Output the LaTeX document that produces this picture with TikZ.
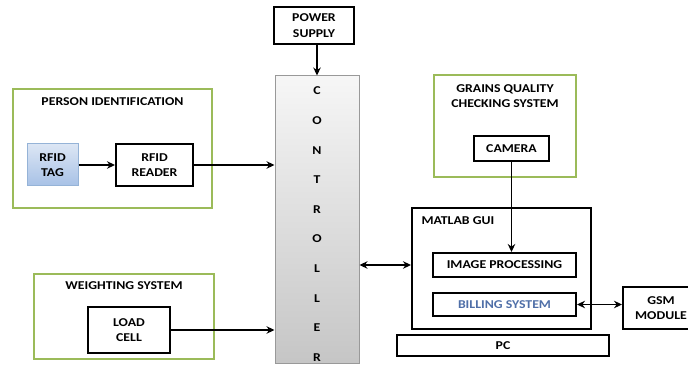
\documentclass[tikz,border=0pt]{standalone}
\usepackage{fontspec}
\setmainfont{Carlito}[FakeStretch=1.15]
\usepackage{xcolor}
\usetikzlibrary{arrows.meta,positioning}
\definecolor{grpgreen}{HTML}{9BBB59}
\definecolor{tagline}{HTML}{95B3D7}
\definecolor{tagtop}{HTML}{DCE6F4}
\definecolor{tagbot}{HTML}{A7C1E6}
\definecolor{billblue}{HTML}{4F6FA8}

\begin{document}
\begin{tikzpicture}[
  x=1pt,y=-1pt,
  font=\bfseries\fontsize{12}{15.5}\selectfont,
  blk/.style={rectangle,draw=black,line width=2pt,fill=white,align=center,inner sep=0pt},
  grp/.style={rectangle,draw=grpgreen,line width=1.5pt,inner sep=0pt},
  tagbox/.style={rectangle,draw=tagline,line width=1pt,top color=tagtop,bottom color=tagbot,align=center,inner sep=0pt},
  ctrlbox/.style={rectangle,draw=gray!80,line width=1pt,top color=gray!7,bottom color=gray!45,inner sep=0pt},
  arr/.style={-{Stealth[length=8pt,width=7.5pt]},line width=1.7pt},
  darr/.style={{Stealth[length=8pt,width=7.5pt]}-{Stealth[length=8pt,width=7.5pt]},line width=1.7pt}
]
\useasboundingbox (0,0) rectangle (688,366);

% groups
\node[grp,minimum width=199pt,minimum height=119pt] (person) at (112.5,148.5) {};
\node (persontitle) at (112.5,102) {PERSON IDENTIFICATION};
\node[grp,minimum width=180pt,minimum height=85pt] (weigh) at (124,316.5) {};
\node (weightitle) at (124,286) {WEIGHTING SYSTEM};
\node[grp,minimum width=142pt,minimum height=102pt] (grains) at (505,126) {};
\node[align=center] (grainstitle) at (505,96) {GRAINS QUALITY\\CHECKING SYSTEM};
\node[blk,minimum width=179pt,minimum height=121pt] (matlab) at (501.5,268.5) {};
\node[anchor=west] (matlabtitle) at (418,221) {MATLAB GUI};

% blocks
\node[blk,minimum width=80pt,minimum height=37pt] (power) at (314,25.5) {POWER\\SUPPLY};
\node[ctrlbox,minimum width=84pt,minimum height=287pt] (ctrl) at (317,219.5) {};
\foreach \l [count=\i] in {C,O,N,T,R,O,L,L,E,R}
  \node (ctrl\i) at (317,{91+(\i-1)*29.6}) {\l};
\node[tagbox,minimum width=51pt,minimum height=42pt] (tag) at (52.5,165) {RFID\\TAG};
\node[blk,minimum width=77pt,minimum height=42pt] (reader) at (154.5,165) {RFID\\READER};
\node[blk,minimum width=82pt,minimum height=46pt] (load) at (129,330) {LOAD\\CELL};
\node[blk,minimum width=75pt,minimum height=25pt] (camera) at (511.5,148.5) {CAMERA};
\node[blk,minimum width=143pt,minimum height=24pt] (imgproc) at (504.5,265) {IMAGE PROCESSING};
\node[blk,minimum width=143pt,minimum height=23pt,text=billblue] (billing) at (504.5,304.5) {BILLING SYSTEM};
\node[blk,minimum width=76pt,minimum height=42pt] (gsm) at (661,308) {GSM\\MODULE};
\node[blk,minimum width=212pt,minimum height=21pt] (pc) at (503,345.5) {PC};

% connectors
\draw[arr] (power.south -| ctrl.north) -- (ctrl.north);
\draw[arr] (tag.east) -- (reader.west);
\draw[arr] (reader.east) -- (ctrl.west |- reader.east);
\draw[arr] (load.east) -- (ctrl.west |- load.east);
\draw[darr] (ctrl.east |- imgproc.west) -- (matlab.west |- imgproc.west);
\draw[arr] (camera.south) -- (camera.south |- imgproc.north);
\draw[darr] (billing.east) -- (gsm.west |- billing.east);
\end{tikzpicture}
\end{document}
